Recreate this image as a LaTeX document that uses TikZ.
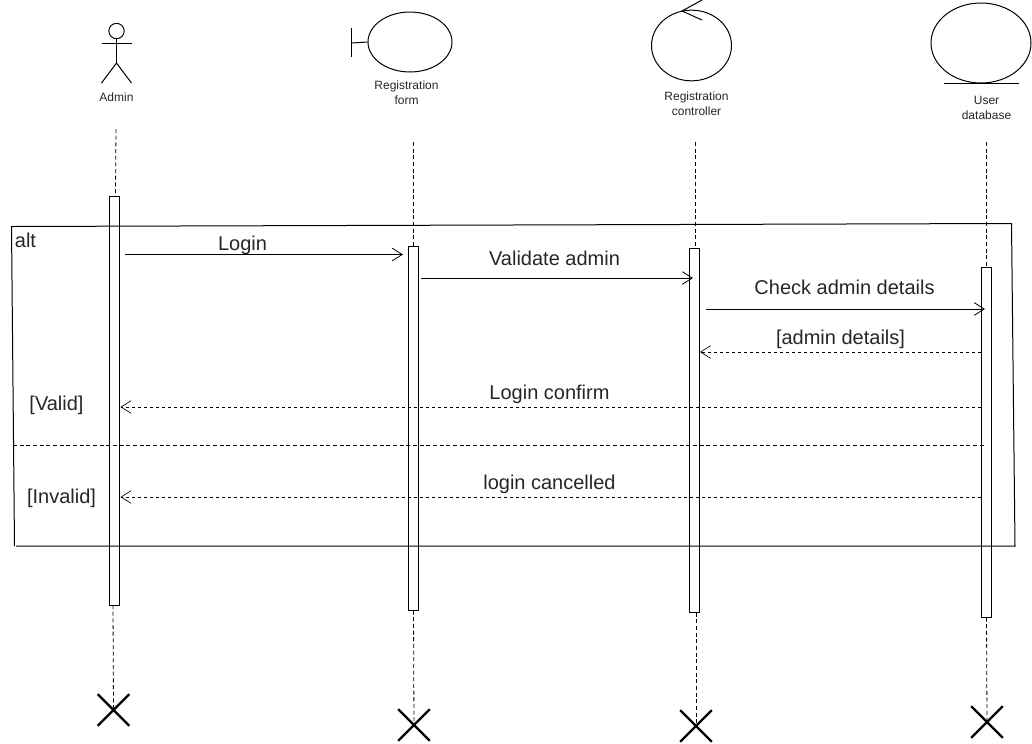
\documentclass[tikz,border=0pt]{standalone}
\usepackage{fontspec}
\setmainfont{Liberation Sans}
\usetikzlibrary{arrows.meta,shapes.geometric,shapes.misc}
\tikzset{
  x=0.75pt,y=-0.75pt,
  every path/.style={line width=0.75pt},
  bar/.style={draw,rectangle,minimum width=7.5pt,inner sep=0pt},
  lifeline/.style={dash pattern=on 3pt off 2pt,line width=0.6pt},
  msg/.style={-{Straight Barb[length=7.5pt,width=9.5pt,line width=0.6pt]}},
  reply/.style={-{Straight Barb[length=7.5pt,width=9.5pt,line width=0.5pt]},dash pattern=on 2.5pt off 2pt,line width=0.6pt},
  killx/.style={cross out,draw,line width=1.7pt,minimum size=22pt,inner sep=0pt},
  small/.style={font=\fontsize{9}{11.6}\selectfont,align=center,inner sep=0pt,text=black!85},
  big/.style={font=\fontsize{15}{18}\selectfont,inner sep=0pt,text=black!85},
  obj/.style={draw,ellipse,inner sep=0pt},
}
\begin{document}
\begin{tikzpicture}
\useasboundingbox (0,0) rectangle (1032,743);
% Admin actor
\node[draw,circle,minimum size=11.5pt,inner sep=0pt] (head) at (116.5,31) {};
\coordinate (hip) at (116.5,63);
\coordinate (armL) at (101.5,43);
\coordinate (armR) at (131.5,43);
\coordinate (legL) at (101.5,83);
\coordinate (legR) at (131.5,83);
\draw (head.south) -- (hip);
\draw (armL) -- (armR);
\draw (legL) -- (hip) -- (legR);
\node[small] (lblA) at (116.5,97) {Admin};
% Boundary
\node[obj,minimum width=63pt,minimum height=45pt] (form) at (410,42) {};
\coordinate (fT) at (351.5,28);
\coordinate (fB) at (351.5,57);
\coordinate (fM) at (351.5,43);
\draw (fT) -- (fB);
\draw (fM) -- (form.west);
\node[small] (lblF) at (406.5,92.5) {Registration\\form};
% Control
\node[obj,minimum width=60pt,minimum height=53pt] (ctrl) at (691.5,45.5) {};
\coordinate (cTip) at (682,11);
\coordinate (cU) at (702,0);
\coordinate (cD) at (702,20);
\draw (cU) -- (cTip) -- (cD);
\node[small] (lblC) at (696.5,103.5) {Registration\\controller};
% Entity
\node[obj,minimum width=75pt,minimum height=60pt] (db) at (981,43) {};
\coordinate (dL) at (944,83);
\coordinate (dR) at (1019,83);
\draw (dL) -- (dR);
\node[small] (lblD) at (986.5,108) {User\\database};
% Activation bars
\node[bar,minimum height=306.75pt] (barA) at (114.5,400.5) {};
\node[bar,minimum height=273pt] (barF) at (413.5,428) {};
\node[bar,minimum height=273pt] (barC) at (694.5,430) {};
\node[bar,minimum height=262.5pt] (barD) at (986.5,442) {};
% Lifelines
\coordinate (lA) at (116,129);
\coordinate (lAb) at (115.5,196);
\coordinate (lAc) at (113,605);
\coordinate (lF) at (413.5,142);
\coordinate (lC) at (695.5,142);
\coordinate (lD) at (986.5,142);
\node[killx] (xA) at (113.5,710) {};
\node[killx] (xF) at (414,725) {};
\node[killx] (xC) at (696,726) {};
\node[killx] (xD) at (987,722) {};
\draw[lifeline] (lA) -- (lAb);
\draw[lifeline] (lF) -- (barF.north);
\draw[lifeline] (lC) -- (barC.north -| lC);
\draw[lifeline] (lD) -- (barD.north);
\draw[lifeline] (lAc) -- (xA.center);
\draw[lifeline] (barF.south) -- (xF.center);
\draw[lifeline] (barC.south -| xC) -- (xC.center);
\draw[lifeline] (barD.south) -- (xD.center);
% Alt frame
\coordinate (f1) at (11.5,226.5);
\coordinate (f2) at (1011.5,223.5);
\coordinate (f3) at (1015,546);
\coordinate (f4) at (16,546);
\coordinate (f5) at (14.5,546);
\draw (f4) -- (f3) -- (f2) -- (f1) -- (f5);
\coordinate (s1) at (13,445);
\coordinate (s2) at (984,445);
\draw[dash pattern=on 3pt off 2pt,line width=0.6pt] (s1) -- (s2);
\node[big] (alt) at (25.5,240) {alt};
\node[big] (valid) at (56.5,405) {[Valid]};
\node[big] (invalid) at (61.5,498) {[Invalid]};
% Messages
\coordinate (m1a) at (125,254.5);
\coordinate (m1b) at (403,254.5);
\coordinate (m2a) at (421,278);
\coordinate (m2b) at (693,278);
\coordinate (m3a) at (706,309);
\coordinate (m3b) at (985,309);
\coordinate (m4a) at (981,352);
\coordinate (m4b) at (700,352);
\coordinate (m5a) at (981,407);
\coordinate (m5b) at (120.5,407);
\coordinate (m6a) at (981,497);
\coordinate (m6b) at (120.5,497);
\draw[msg] (m1a) -- (m1b);
\draw[msg] (m2a) -- (m2b);
\draw[msg] (m3a) -- (m3b);
\draw[reply] (m4a) -- (m4b);
\draw[reply] (m5a) -- (m5b);
\draw[reply] (m6a) -- (m6b);
\node[big] (t1) at (242.5,245) {Login};
\node[big] (t2) at (554.5,258) {Validate admin};
\node[big] (t3) at (844.5,287) {Check admin details};
\node[big] (t4) at (840.5,339) {[admin details]};
\node[big] (t5) at (549.5,394) {Login confirm};
\node[big] (t6) at (549.5,484) {login cancelled};
\end{tikzpicture}
\end{document}
